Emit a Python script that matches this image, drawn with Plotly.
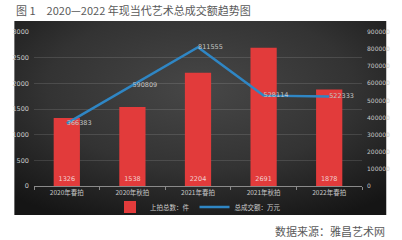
import base64
import plotly.graph_objects as go

categories = ["2020年春拍", "2020年秋拍", "2021年春拍", "2021年秋拍", "2022年春拍"]
lots = [1326, 1538, 2204, 2691, 1878]
turnover = [366383, 590809, 811555, 528114, 522333]
lots_name = "上拍总数：件"
turnover_name = "总成交额：万元"
title_text = "图 1　2020—2022 年现当代艺术总成交额趋势图"
source_text = "数据来源：雅昌艺术网"

W, H = 402, 240
L, R, T, B = 24, 30, 32, 54
pw, ph = W - L - R, H - T - B

def px_x(px):
    return (px - L) / pw

def px_y(py):
    return (H - B - py) / ph

svg = (
    '<svg xmlns="http://www.w3.org/2000/svg" width="395" height="194" preserveAspectRatio="none" viewBox="0 0 395 194">'
    '<defs><radialGradient id="g" cx="50%" cy="35%" r="75%">'
    '<stop offset="0%" stop-color="#474747"/>'
    '<stop offset="55%" stop-color="#333333"/>'
    '<stop offset="100%" stop-color="#151515"/>'
    '</radialGradient></defs>'
    '<rect width="395" height="194" fill="url(#g)"/></svg>'
)
bg_src = "data:image/svg+xml;base64," + base64.b64encode(svg.encode()).decode()

fig = go.Figure()
fig.add_trace(go.Bar(
    x=categories, y=lots, name=lots_name,
    marker=dict(color="#e23b3b", line=dict(width=0)),
    text=[str(v) for v in lots], textposition="inside",
    insidetextanchor="start",
    textfont=dict(color="#f2d0d0", size=6.5, family="DejaVu Sans"),
    yaxis="y",
))
fig.add_trace(go.Scatter(
    x=categories, y=turnover, name=turnover_name,
    mode="lines+text",
    line=dict(color="#2f86c4", width=2.5),
    text=[str(v) for v in turnover], textposition="middle right",
    textfont=dict(color="#c4c4c4", size=6.5, family="DejaVu Sans"),
    yaxis="y2", cliponaxis=False,
))

fig.update_layout(
    width=W, height=H,
    margin=dict(l=L, r=R, t=T, b=B),
    paper_bgcolor="white", plot_bgcolor="rgba(0,0,0,0)",
    bargap=0.6,
    showlegend=True,
    legend=dict(orientation="h", x=0.5, xanchor="center", y=px_y(207), yanchor="middle",
                font=dict(color="#cccccc", size=6.5, family="Noto Sans CJK SC"),
                bgcolor="rgba(0,0,0,0)", itemwidth=30, tracegroupgap=0),
    xaxis=dict(
        showgrid=False, showline=True, linecolor="#8a8a8a", linewidth=1,
        ticks="outside", tickson="boundaries", ticklen=3, tickcolor="#8a8a8a",
        tickfont=dict(color="#c8c8c8", size=6.5, family="Noto Sans CJK SC"),
        zeroline=False,
    ),
    yaxis=dict(
        range=[0, 3000], dtick=500, showgrid=True, gridcolor="rgba(255,255,255,0.12)",
        gridwidth=1, zeroline=False, showline=False, tickformat="d",
        tickfont=dict(color="#c8c8c8", size=6.5, family="DejaVu Sans"),
        ticks="", ticklabelstandoff=4,
    ),
    yaxis2=dict(
        range=[0, 900000], dtick=100000, overlaying="y", side="right",
        showgrid=False, zeroline=False, showline=False, tickformat="d",
        tickfont=dict(color="#c8c8c8", size=6, family="DejaVu Sans"),
        ticks="", ticklabelstandoff=4,
    ),
    images=[dict(
        source=bg_src, xref="paper", yref="paper",
        x=px_x(3), y=px_y(21), sizex=px_x(398) - px_x(3), sizey=px_y(21) - px_y(215),
        xanchor="left", yanchor="top", sizing="stretch", layer="below",
    )],
    annotations=[
        dict(text=title_text, xref="paper", yref="paper", x=px_x(3), y=px_y(10),
             xanchor="left", yanchor="middle", showarrow=False,
             font=dict(color="#5a5a5a", size=11, family="Noto Sans CJK SC")),
        dict(text=source_text, xref="paper", yref="paper", x=px_x(399), y=px_y(231),
             xanchor="right", yanchor="middle", showarrow=False,
             font=dict(color="#5a5a5a", size=11, family="Noto Sans CJK SC")),
    ],
)

fig.write_html("out.html")
